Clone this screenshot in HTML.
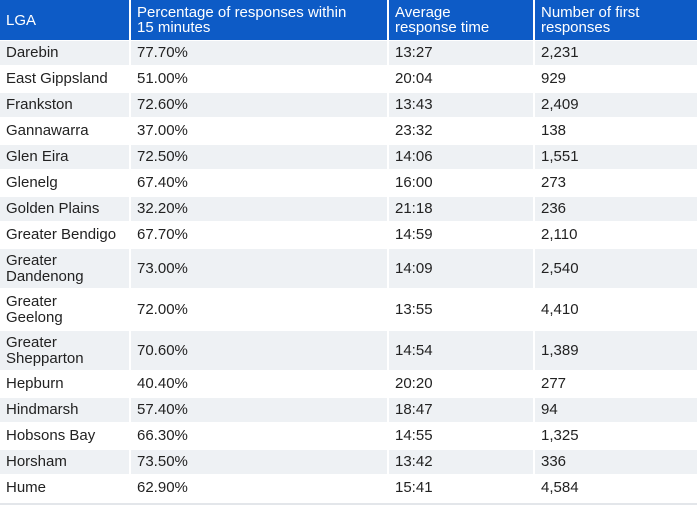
<!DOCTYPE html>
<html><head><meta charset="utf-8"><style>
body{margin:0;background:#fff;width:697px;height:508px;overflow:hidden;font-family:"Liberation Sans",Arial,sans-serif;}
.c{position:absolute;box-sizing:border-box;padding-left:6px;display:flex;align-items:center;font-size:15px;line-height:16px;color:#222;}
.h{background:#0d5bc6;color:#fff;line-height:15px;}
.g{background:#eef1f4;}
</style></head><body>
<div id="t"></div>
<div style="position:absolute;left:0;top:503px;width:697px;height:2px;background:#e3e6ea"></div>
<script>
const cols=[[0,129],[131,256],[389,144],[535,162]];
const header=["LGA","Percentage of responses within<br>15 minutes","Average<br>response time","Number of first<br>responses"];
const rows=[
["Darebin","77.70%","13:27","2,231"],
["East Gippsland","51.00%","20:04","929"],
["Frankston","72.60%","13:43","2,409"],
["Gannawarra","37.00%","23:32","138"],
["Glen Eira","72.50%","14:06","1,551"],
["Glenelg","67.40%","16:00","273"],
["Golden Plains","32.20%","21:18","236"],
["Greater Bendigo","67.70%","14:59","2,110"],
["Greater<br>Dandenong","73.00%","14:09","2,540"],
["Greater<br>Geelong","72.00%","13:55","4,410"],
["Greater<br>Shepparton","70.60%","14:54","1,389"],
["Hepburn","40.40%","20:20","277"],
["Hindmarsh","57.40%","18:47","94"],
["Hobsons Bay","66.30%","14:55","1,325"],
["Horsham","73.50%","13:42","336"],
["Hume","62.90%","15:41","4,584"]];
const names=["lga","pct-within-15","avg-time","first-responses"];
const t=document.getElementById('t');
function cell(html,x,y,w,h,cls,name){
const d=document.createElement('div');
d.className='c '+cls;
d.style.left=x+'px';d.style.top=y+'px';d.style.width=w+'px';d.style.height=h+'px';
d.innerHTML=html;


t.appendChild(d);}
header.forEach((h,i)=>cell(h,cols[i][0],0,cols[i][1],40,'h','header-'+names[i]));
let y=41;
rows.forEach((r,ri)=>{
const tall=r[0].includes('<br>');
const h=tall?39:24;
r.forEach((v,i)=>cell(v,cols[i][0],y,cols[i][1],h,ri%2==0?'g':'','cell-'+names[i]));
y+=h+2;});
</script>
</body></html>
